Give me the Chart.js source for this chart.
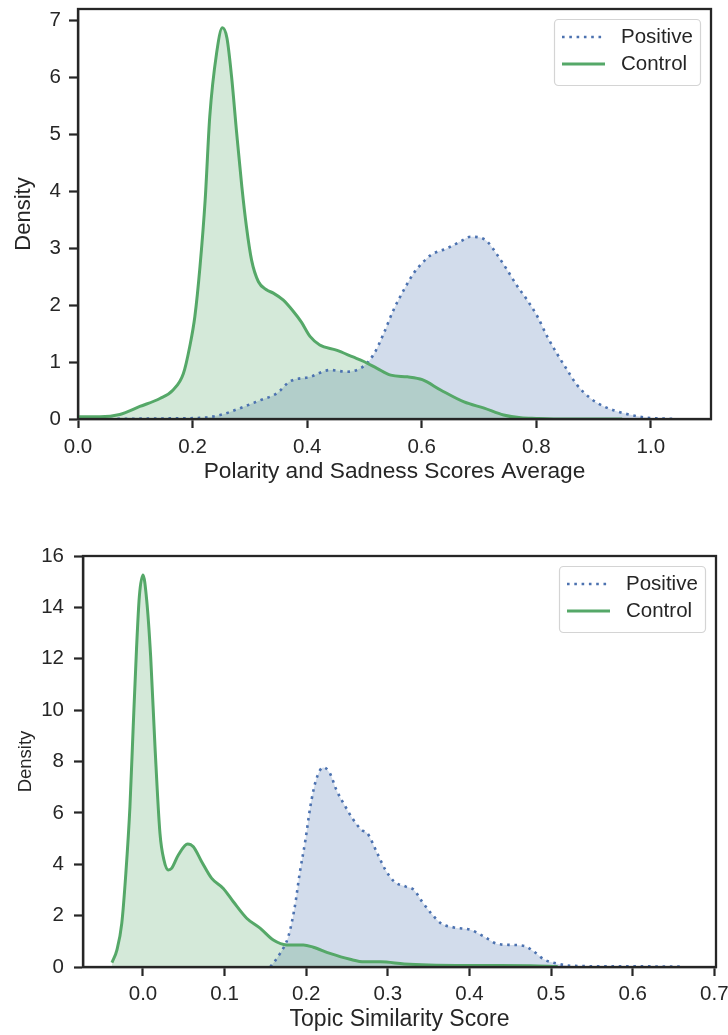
<!DOCTYPE html>
<html><head><meta charset="utf-8">
<script src="https://cdn.jsdelivr.net/npm/chart.js@4.4.1/dist/chart.umd.min.js"></script>
<style>
html,body{margin:0;padding:0;background:#fff;width:728px;height:1035px;overflow:hidden;}
#c1{position:absolute;left:0;top:0;}
#c2{position:absolute;left:0;top:520px;}
</style>
</head><body>
<canvas id="c1" width="728" height="500"></canvas>
<canvas id="c2" width="728" height="515"></canvas>
<script>
// ---- Data ----
const seriesNames = ['Positive', 'Control'];

// Chart 1: Polarity and Sadness Scores Average
const topXTicks = [0.0, 0.2, 0.4, 0.6, 0.8, 1.0];
const topYTicks = [0, 1, 2, 3, 4, 5, 6, 7];
const topPosX = [0.056,0.150,0.213,0.248,0.283,0.318,0.347,0.370,0.405,0.440,0.469,0.499,0.517,0.534,0.551,0.569,0.586,0.601,0.616,0.645,0.668,0.685,0.700,0.714,0.732,0.749,0.767,0.784,0.802,0.819,0.836,0.854,0.871,0.895,0.918,0.953,0.988,1.040];
const topPosY = [0.00,0.01,0.02,0.07,0.19,0.33,0.45,0.66,0.74,0.86,0.83,0.93,1.15,1.51,1.92,2.27,2.56,2.74,2.88,3.00,3.12,3.20,3.19,3.12,2.88,2.62,2.33,2.09,1.80,1.45,1.15,0.86,0.60,0.36,0.22,0.10,0.03,0.00];
const topCtlX = [0.000,0.038,0.073,0.108,0.143,0.166,0.184,0.195,0.204,0.213,0.222,0.230,0.242,0.252,0.260,0.268,0.277,0.286,0.294,0.303,0.315,0.329,0.341,0.358,0.375,0.390,0.405,0.422,0.451,0.480,0.499,0.522,0.546,0.575,0.601,0.633,0.674,0.709,0.743,0.773,0.800,0.850,0.900,0.950];
const topCtlY = [0.04,0.04,0.08,0.22,0.36,0.51,0.80,1.27,1.80,2.68,3.85,5.31,6.43,6.87,6.69,6.02,5.02,4.08,3.38,2.79,2.41,2.27,2.21,2.09,1.90,1.70,1.45,1.30,1.21,1.09,1.01,0.89,0.77,0.74,0.69,0.51,0.30,0.19,0.07,0.02,0.01,0.00,0.00,0.00];

// Chart 2: Topic Similarity Score
const botXTicks = [0.0, 0.1, 0.2, 0.3, 0.4, 0.5, 0.6, 0.7];
const botYTicks = [0, 2, 4, 6, 8, 10, 12, 14, 16];
const botPosX = [0.156,0.168,0.178,0.186,0.192,0.199,0.205,0.212,0.221,0.229,0.237,0.248,0.258,0.268,0.275,0.287,0.297,0.308,0.322,0.332,0.342,0.353,0.365,0.381,0.402,0.418,0.434,0.451,0.467,0.479,0.491,0.506,0.524,0.557,0.663];
const botPosY = [0.00,0.53,1.18,2.35,3.65,4.94,6.24,7.28,7.77,7.54,6.89,6.24,5.72,5.33,5.20,4.43,3.78,3.32,3.13,3.00,2.54,2.09,1.70,1.54,1.44,1.18,0.90,0.86,0.82,0.60,0.30,0.14,0.05,0.03,0.02];
const botCtlX = [-0.038,-0.032,-0.026,-0.021,-0.016,-0.012,-0.008,-0.0045,0.000,0.0045,0.0094,0.0147,0.0208,0.0257,0.031,0.035,0.0433,0.0547,0.0617,0.0719,0.0842,0.0984,0.1107,0.127,0.1434,0.1597,0.176,0.1965,0.2087,0.229,0.2537,0.271,0.291,0.320,0.350,0.414,0.475,0.508];
const botCtlY = [0.17,0.66,1.70,3.65,6.24,9.35,12.34,14.41,15.26,14.29,12.08,8.58,5.20,4.16,3.78,3.84,4.36,4.79,4.68,4.10,3.45,3.06,2.54,1.90,1.51,1.05,0.86,0.86,0.77,0.53,0.30,0.20,0.20,0.12,0.08,0.06,0.05,0.02];

// ---- Styling ----
const FONT = "'Liberation Sans', Arial, Helvetica, sans-serif";
const INK = '#262626';
const BLUE = '#4c72b0', GREEN = '#55a868';
const BLUE_FILL = 'rgba(76,114,176,0.25)', GREEN_FILL = 'rgba(85,168,104,0.25)';
const TICK_SIZE = 20.5;

const pts = (xs, ys) => xs.map((x, i) => ({x: x, y: ys[i]}));

function datasets(posX, posY, ctlX, ctlY) {
  return [
    {label: seriesNames[0], data: pts(posX, posY), borderColor: BLUE, backgroundColor: BLUE_FILL, order: 1,
     borderWidth: 2.6, borderDash: [2.6, 4.7], fill: 'origin', pointRadius: 0, cubicInterpolationMode: 'monotone'},
    {label: seriesNames[1], data: pts(ctlX, ctlY), borderColor: GREEN, backgroundColor: GREEN_FILL, order: 0,
     borderWidth: 3, fill: 'origin', pointRadius: 0, cubicInterpolationMode: 'monotone'}
  ];
}

function xAxis(min, max, ticks, title, h, pad, titleSize, titlePadBottom) {
  return {
    type: 'linear', min: min, max: max,
    afterBuildTicks: s => { s.ticks = ticks.map(v => ({value: v})); },
    afterFit: s => { s.height = h; s.paddingLeft = 0; s.paddingRight = 0; },
    ticks: {callback: v => Number(v).toFixed(1), font: {size: TICK_SIZE, family: FONT}, color: INK, padding: pad, maxRotation: 0, autoSkip: false},
    grid: {display: true, drawOnChartArea: false, drawTicks: true, tickLength: 9, tickWidth: 2.2, tickColor: INK},
    border: {display: true, color: INK, width: 2.3},
    title: {display: true, text: title, font: {size: titleSize, family: FONT}, color: INK, padding: {top: 0, bottom: titlePadBottom}}
  };
}
function yAxis(min, max, ticks, title, w, pad, titleSize, titlePadTop) {
  return {
    type: 'linear', min: min, max: max,
    afterBuildTicks: s => { s.ticks = ticks.map(v => ({value: v})); },
    afterFit: s => { s.width = w; s.paddingTop = 0; s.paddingBottom = 0; },
    ticks: {callback: v => String(v), font: {size: TICK_SIZE, family: FONT}, color: INK, padding: pad, autoSkip: false},
    grid: {display: true, drawOnChartArea: false, drawTicks: true, tickLength: 9, tickWidth: 2.2, tickColor: INK},
    border: {display: true, color: INK, width: 2.3},
    title: {display: true, text: title, font: {size: titleSize, family: FONT}, color: INK, padding: {top: titlePadTop, bottom: 0}}
  };
}

const framePlugin = {
  id: 'frame',
  afterDatasetsDraw(chart) {
    const {ctx, chartArea: a} = chart;
    ctx.save();
    ctx.strokeStyle = INK; ctx.lineWidth = 2.3;
    ctx.strokeRect(a.left, a.top, a.right - a.left, a.bottom - a.top);
    ctx.restore();
  }
};

const legendPlugin = {
  id: 'boxLegend',
  afterDraw(chart) {
    const {ctx, chartArea: a} = chart;
    const w = 146, h = 66;
    const x0 = a.right - 11 - w, y0 = a.top + 10;
    ctx.save();
    ctx.beginPath();
    ctx.roundRect(x0 + 0.5, y0 + 0.5, w, h, 4);
    ctx.fillStyle = 'rgba(255,255,255,0.85)'; ctx.fill();
    ctx.lineWidth = 1.2; ctx.strokeStyle = '#d4d4d4'; ctx.stroke();
    chart.data.datasets.forEach((ds, i) => {
      const y = y0 + 18 + i * 27;
      ctx.beginPath();
      ctx.setLineDash(ds.borderDash || []);
      ctx.lineWidth = ds.borderWidth; ctx.strokeStyle = ds.borderColor;
      ctx.moveTo(x0 + 8, y); ctx.lineTo(x0 + 51, y); ctx.stroke();
      ctx.setLineDash([]);
      ctx.fillStyle = INK; ctx.font = '20.5px ' + FONT; ctx.textBaseline = 'middle'; ctx.textAlign = 'left';
      ctx.fillText(ds.label, x0 + 67, y);
    });
    ctx.restore();
  }
};

function makeChart(id, ds, scales, padding) {
  return new Chart(document.getElementById(id), {
    type: 'line',
    data: {datasets: ds},
    options: {
      responsive: false, animation: false, devicePixelRatio: 1,
      layout: {padding: padding},
      plugins: {legend: {display: false}, tooltip: {enabled: false}, filler: {drawTime: 'beforeDatasetsDraw'}},
      scales: scales
    },
    plugins: [framePlugin, legendPlugin]
  });
}

makeChart('c1', datasets(topPosX, topPosY, topCtlX, topCtlY), {
  x: xAxis(0, 1.105, topXTicks, 'Polarity and Sadness Scores Average', 81, 7, 22.7, 14.5),
  y: yAxis(0, 7.2, topYTicks, 'Density', 78, 8, 22, 11)
}, {top: 9, right: 17, left: 0, bottom: 0});

makeChart('c2', datasets(botPosX, botPosY, botCtlX, botCtlY), {
  x: xAxis(-0.0735, 0.702, botXTicks, 'Topic Similarity Score', 68, 6.5, 23, 2),
  y: yAxis(0, 16, botYTicks, 'Density', 83, 10, 18.5, 14.7)
}, {top: 36, right: 12, left: 0, bottom: 0});
</script>
</body></html>
